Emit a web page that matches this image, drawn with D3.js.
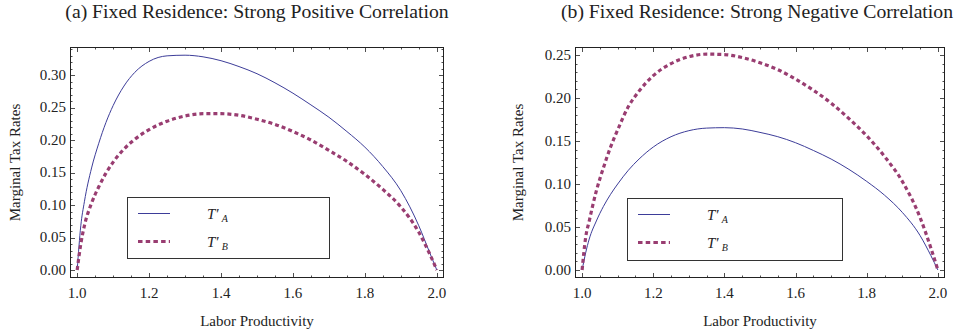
<!DOCTYPE html>
<html><head><meta charset="utf-8">
<script src="https://cdn.jsdelivr.net/npm/d3@7"></script>
<style>body{margin:0;background:#fff}svg{display:block}text{font-family:"Liberation Serif","Times New Roman",serif;fill:#222}</style>
</head><body><svg id="c" width="962" height="336"></svg>
<script>
// ---- data ----
const xs = [1.0,1.01,1.02,1.04,1.06,1.08,1.10,1.13,1.16,1.20,1.25,1.30,1.35,1.40,1.45,1.50,1.55,1.60,1.65,1.70,1.75,1.80,1.85,1.90,1.95,1.98,2.0];
const posA = [0,0.068,0.105,0.157,0.195,0.227,0.253,0.283,0.304,0.321,0.3295,0.3305,0.328,0.322,0.313,0.302,0.288,0.272,0.254,0.235,0.213,0.189,0.159,0.122,0.068,0.027,0];
const posB = [0,0.040,0.068,0.103,0.128,0.149,0.166,0.186,0.201,0.216,0.229,0.237,0.2405,0.2405,0.238,0.232,0.224,0.213,0.200,0.184,0.167,0.147,0.124,0.097,0.058,0.025,0];
const negA = [0,0.020,0.036,0.057,0.074,0.088,0.100,0.116,0.129,0.143,0.155,0.162,0.165,0.1655,0.164,0.160,0.155,0.148,0.139,0.129,0.117,0.103,0.087,0.067,0.040,0.017,0];
const negB = [0,0.038,0.057,0.092,0.119,0.143,0.163,0.190,0.208,0.226,0.240,0.248,0.251,0.2505,0.247,0.241,0.233,0.222,0.209,0.194,0.176,0.156,0.132,0.103,0.061,0.026,0];
const xTicks = [1.0,1.2,1.4,1.6,1.8,2.0];
const yTicksPos = [0,0.05,0.10,0.15,0.20,0.25,0.30];
const yTicksNeg = [0,0.05,0.10,0.15,0.20,0.25];
const titles = ["(a) Fixed Residence: Strong Positive Correlation","(b) Fixed Residence: Strong Negative Correlation"];
const seriesNames = ["A","B"];
const xLabel = "Labor Productivity", yLabel = "Marginal Tax Rates";

const colA = "#3d3d99", colB = "#993d71";
const svg = d3.select("#c");

function panel(o){
  const g = svg.append("g");
  const x = d3.scaleLinear().domain([0.98,2.02]).range([o.l,o.r]);
  const y = d3.scaleLinear().domain(o.yd).range([o.b,o.t]);
  const xMinor = d3.range(0,21).map(i=>1+i*0.05);
  const yMinor = d3.range(o.ymin,o.ymax+1).map(i=>i/100);
  const tk = g.append("g").attr("stroke","#222").attr("stroke-width",0.8);
  xMinor.forEach(v=>{
    const maj = xTicks.some(t=>Math.abs(t-v)<1e-6), L = maj?5:2.5, px = Math.round(x(v))+0.5;
    tk.append("line").attr("x1",px).attr("x2",px).attr("y1",o.b).attr("y2",o.b-L);
    tk.append("line").attr("x1",px).attr("x2",px).attr("y1",o.t).attr("y2",o.t+L);
  });
  yMinor.forEach(v=>{
    const maj = o.yt.some(t=>Math.abs(t-v)<1e-6), L = maj?5:2.5, py = Math.round(y(v))+0.5;
    if(py<o.t||py>o.b) return;
    tk.append("line").attr("y1",py).attr("y2",py).attr("x1",o.l).attr("x2",o.l+L);
    tk.append("line").attr("y1",py).attr("y2",py).attr("x1",o.r).attr("x2",o.r-L);
  });
  g.append("rect").attr("x",o.l+0.5).attr("y",o.t+0.5).attr("width",o.r-o.l-1).attr("height",o.b-o.t-1)
    .attr("fill","none").attr("stroke","#222").attr("stroke-width",1);
  g.selectAll(".xl").data(xTicks).enter().append("text").attr("x",d=>x(d)).attr("y",298)
    .attr("text-anchor","middle").attr("font-size",15).text(d=>d.toFixed(1));
  g.selectAll(".yl").data(o.yt).enter().append("text").attr("x",o.l-4).attr("y",d=>y(d))
    .attr("dy","0.33em").attr("text-anchor","end").attr("font-size",15).text(d=>d.toFixed(2));
  g.append("text").attr("x",(o.l+o.r)/2).attr("y",326).attr("text-anchor","middle").attr("font-size",15).text(xLabel);
  g.append("text").attr("transform",`translate(${o.yl},${(o.t+o.b)/2}) rotate(-90)`).attr("text-anchor","middle").attr("font-size",15).text(yLabel);
  g.append("text").attr("x",o.tx).attr("y",18).attr("text-anchor","middle").attr("font-size",19.7).text(o.title);
  const line = d3.line().x((d,i)=>x(xs[i])).y(d=>y(d)).curve(d3.curveMonotoneX);
  g.append("path").attr("d",line(o.a)).attr("fill","none").attr("stroke",colA).attr("stroke-width",1);
  g.append("path").attr("d",line(o.bb)).attr("fill","none").attr("stroke",colB).attr("stroke-width",3.2).attr("stroke-dasharray","4,3");
  const lg = g.append("g");
  lg.append("rect").attr("x",o.lg[0]+0.5).attr("y",o.lg[1]+0.5).attr("width",o.lg[2]).attr("height",o.lg[3])
    .attr("fill","#fff").attr("stroke","#333").attr("stroke-width",1);
  [[colA,1,null],[colB,3.2,"4.5,3.2"]].forEach((s,i)=>{
    const yy = o.lg[1]+16.5+i*28;
    lg.append("line").attr("x1",o.lg[0]+11).attr("x2",o.lg[0]+43).attr("y1",yy).attr("y2",yy)
      .attr("stroke",s[0]).attr("stroke-width",s[1]).attr("stroke-dasharray",s[2]);
    const t = lg.append("text").attr("x",o.lg[0]+80).attr("y",yy+5).attr("font-size",15).attr("font-style","italic");
    t.append("tspan").text("T\u2032");
    t.append("tspan").attr("dx",3).attr("dy",3).attr("font-size",10).text(seriesNames[i]);
  });
}

panel({l:70,r:444,t:47,b:278,yd:[-0.0123,0.3431],yt:yTicksPos,ymin:-1,ymax:34,a:posA,bb:posB,
  title:titles[0],tx:257,yl:20,lg:[127,197,202,61]});
panel({l:575,r:945,t:47,b:278,yd:[-0.0093,0.2593],yt:yTicksNeg,ymin:0,ymax:25,a:negA,bb:negB,
  title:titles[1],tx:757,yl:523,lg:[627,198,215,62]});
</script></body></html>
